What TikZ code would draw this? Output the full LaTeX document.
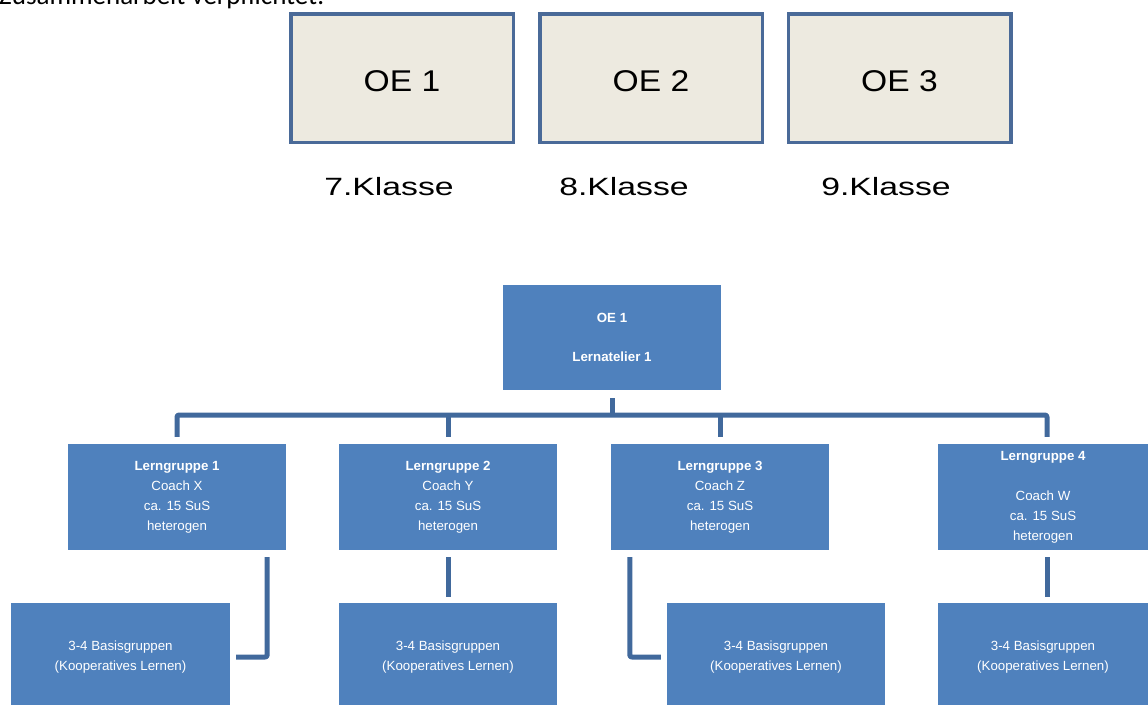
\documentclass[tikz,border=0pt]{standalone}
\usepackage{fontspec}
\setmainfont{Liberation Sans}
\newfontfamily\carl{Carlito}
\usepackage{graphicx}
\definecolor{oeborder}{HTML}{4A6A98}
\definecolor{oefill}{HTML}{EDEAE0}
\definecolor{bluefill}{HTML}{4F81BD}
\definecolor{connc}{HTML}{41699C}
\newcommand{\oetext}[1]{\raisebox{-3pt}[\height][0pt]{\scalebox{1.12}[1]{#1}}}
\begin{document}
\begin{tikzpicture}[x=1pt,y=-1pt,
  oebox/.style={draw=oeborder, line width=3.5pt, fill=oefill, minimum width=222.5pt, minimum height=128.5pt, inner sep=0pt, font=\fontsize{30}{30}\selectfont},
  klasse/.style={anchor=base, inner sep=0pt, font=\fontsize{25}{25}\selectfont},
  bluebox/.style={fill=bluefill, text=white, align=center, inner sep=0pt, minimum width=218pt, font=\fontsize{13.3}{20}\selectfont},
  conn/.style={draw=connc, line width=5pt, line join=round, rounded corners=2pt}]
\useasboundingbox (0,0) rectangle (1148,704);
\node[anchor=base west, inner sep=0pt, font=\carl\fontsize{27}{27}\selectfont] (intro) at (-1,5) {Zusammenarbeit verpflichtet.};
% top row
\node[oebox] (oe1) at (402,78) {\oetext{OE 1}};
\node[oebox] (oe2) at (651,78) {\oetext{OE 2}};
\node[oebox] (oe3) at (899.5,78) {\oetext{OE 3}};
\node[klasse] (k7) at (389,195) {\scalebox{1.35}[1]{7.Klasse}};
\node[klasse] (k8) at (624,195) {\scalebox{1.35}[1]{8.Klasse}};
\node[klasse] (k9) at (886,195) {\scalebox{1.35}[1]{9.Klasse}};
% org chart
\node[bluebox, minimum height=105pt] (top) at (612,337.5) {\textbf{OE 1}\\[19pt]\textbf{Lernatelier 1}};
\node[bluebox, minimum height=106pt] (lg1) at (177,497) {\textbf{Lerngruppe 1}\\Coach X\\ca. 15 SuS\\heterogen};
\node[bluebox, minimum height=106pt] (lg2) at (448,497) {\textbf{Lerngruppe 2}\\Coach Y\\ca. 15 SuS\\heterogen};
\node[bluebox, minimum height=106pt] (lg3) at (720,497) {\textbf{Lerngruppe 3}\\Coach Z\\ca. 15 SuS\\heterogen};
\node[bluebox, minimum height=106pt, minimum width=210pt] (lg4) at (1043,497) {\textbf{Lerngruppe 4}\\[20pt]Coach W\\ca. 15 SuS\\heterogen};
\node[bluebox, minimum height=108pt, minimum width=219pt] (b1) at (120.5,657) {3-4 Basisgruppen\\(Kooperatives Lernen)};
\node[bluebox, minimum height=108pt] (b2) at (448,657) {3-4 Basisgruppen\\(Kooperatives Lernen)};
\node[bluebox, minimum height=108pt] (b3) at (776,657) {3-4 Basisgruppen\\(Kooperatives Lernen)};
\node[bluebox, minimum height=108pt, minimum width=210pt] (b4) at (1043,657) {3-4 Basisgruppen\\(Kooperatives Lernen)};
\coordinate (bar) at (0,415);
% connectors
\draw[conn] ([yshift=-8pt]top.south) -- (top.south |- bar);
\draw[conn] ([yshift=7pt]lg1.north) -- (lg1.north |- bar) -- ([xshift=4pt]lg4.north |- bar) -- ([xshift=4pt,yshift=7pt]lg4.north);
\draw[conn] (lg2.north |- bar) -- ([yshift=7pt]lg2.north);
\draw[conn] (lg3.north |- bar) -- ([yshift=7pt]lg3.north);
\draw[conn] ([xshift=-19pt,yshift=-7pt]lg1.south east) |- ([xshift=6pt]b1.east);
\draw[conn] ([yshift=-7pt]lg2.south) -- ([yshift=6pt]b2.north);
\draw[conn] ([xshift=19pt,yshift=-7pt]lg3.south west) |- ([xshift=-6pt]b3.west);
\draw[conn] ([xshift=4pt,yshift=-7pt]lg4.south) -- ([xshift=4pt,yshift=6pt]b4.north);
\end{tikzpicture}
\end{document}
